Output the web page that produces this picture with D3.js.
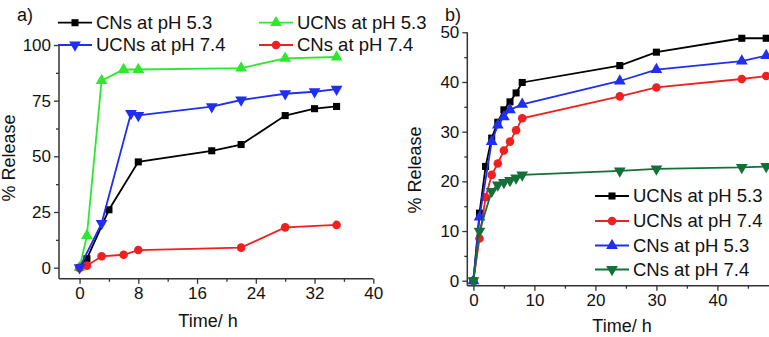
<!DOCTYPE html>
<html>
<head>
<meta charset="utf-8">
<script src="https://cdn.jsdelivr.net/npm/d3@7"></script>
<style>
  body { margin: 0; background: #fff; }
  svg text { font-family: "Liberation Sans", Arial, sans-serif; fill: #111; }
</style>
</head>
<body>
<svg id="chart" width="769" height="337"></svg>
<script>
// ---- panel a data (time in h, % release)
var timeA_cn53 = [0, 1, 4, 8, 18, 22, 28, 32, 35]
var relA_cn53 = [0, 4, 26, 47.5, 52.5, 55.3, 68.3, 71.4, 72.4]
var timeA_ucn53 = [0, 1, 3, 6, 8, 22, 28, 35]
var relA_ucn53 = [0, 14.4, 84, 89, 89, 89.6, 94, 94.6]
var timeA_ucn74 = [0, 3, 7, 8, 18, 22, 28, 32, 35]
var relA_ucn74 = [0, 19.9, 69.3, 68.4, 72.3, 75.3, 78.1, 79, 80.2]
var timeA_cn74 = [0, 1, 3, 6, 8, 22, 28, 35]
var relA_cn74 = [0, 0.9, 5.1, 5.8, 7.9, 9.0, 18.1, 19.2]
var ticksA_x = [0, 8, 16, 24, 32, 40]
var ticksA_y = [0, 25, 50, 75, 100]

// ---- panel b data
var timeB_ucn53 = [0, 1, 2, 3, 4, 5, 6, 7, 8, 24, 30, 44, 48]
var relB_ucn53 = [0, 13.6, 23, 28.7, 31.9, 34.4, 36, 37.8, 39.9, 43.3, 46, 48.8, 48.8]
var timeB_ucn74 = [0, 1, 2, 3, 4, 5, 6, 7, 8, 24, 30, 44, 48]
var relB_ucn74 = [0, 8.5, 16.8, 21.3, 23.6, 26.2, 28, 30.3, 32.7, 37.1, 38.9, 40.6, 41.2]
var timeB_cn53 = [0, 1, 3, 4, 5, 6, 8, 24, 30, 44, 48]
var relB_cn53 = [0, 12.8, 28, 31.3, 33, 34.4, 35.5, 40.2, 42.5, 44.2, 45.3]
var timeB_cn74 = [0, 1, 3, 4, 5, 6, 7, 8, 24, 30, 44, 48]
var relB_cn74 = [0, 10, 18, 19.3, 19.8, 20.2, 20.7, 21.3, 22.1, 22.5, 22.8, 23]
var ticksB_x = [0, 10, 20, 30, 40, 50]
var ticksB_y = [0, 10, 20, 30, 40, 50]

var svg = d3.select("#chart")
svg.append("rect").attr("width", 769).attr("height", 337).attr("fill", "#fff")

var axisColor = "#333"

function zip(xs, ys) {
  return xs.map(function(x, i) { return [x, ys[i]] })
}

// draws one Origin-style panel: left + bottom axis, outward ticks, minor ticks
function drawAxes(g, x, y, xt, yt, xMinor, yMinor) {
  var xr = x.range(), yr = y.range()

  var ax = d3.axisBottom(x).tickValues(xt).tickSize(5).tickPadding(3).tickFormat(d3.format("d"))
  var xg = g.append("g").attr("transform", "translate(0," + yr[0] + ")").call(ax)
  xg.selectAll(".tick line").filter(function(d) { return false })
  g.append("g").attr("transform", "translate(0," + yr[0] + ")")
    .call(d3.axisBottom(x).tickValues(xMinor).tickSize(3).tickFormat(""))
    .select(".domain").remove()

  var ay = d3.axisLeft(y).tickValues(yt).tickSize(5).tickPadding(3).tickFormat(d3.format("d"))
  var yg = g.append("g").attr("transform", "translate(" + xr[0] + ",0)").call(ay)
  g.append("g").attr("transform", "translate(" + xr[0] + ",0)")
    .call(d3.axisLeft(y).tickValues(yMinor).tickSize(3).tickFormat(""))
    .select(".domain").remove()

  g.selectAll(".domain").attr("stroke", axisColor).attr("stroke-width", 1.5)
    .attr("d", null)
  g.selectAll(".tick line").attr("stroke", axisColor).attr("stroke-width", 1.3)
  g.selectAll(".tick text").style("font-size", "17px").attr("fill", "#111")
  // replace domain paths with plain lines (no end caps)
  g.selectAll(".domain").remove()
  g.append("line").attr("x1", xr[0]).attr("x2", xr[1]).attr("y1", yr[0]).attr("y2", yr[0])
    .attr("stroke", axisColor).attr("stroke-width", 1.5)
  g.append("line").attr("x1", xr[0]).attr("x2", xr[0]).attr("y1", yr[0]).attr("y2", yr[1])
    .attr("stroke", axisColor).attr("stroke-width", 1.5)
}

var symbols = {
  square: d3.symbol().type(d3.symbolSquare).size(50),
  circle: d3.symbol().type(d3.symbolCircle).size(58),
  up: d3.symbol().type(d3.symbolTriangle).size(60),
  down: d3.symbol().type(d3.symbolTriangle).size(60)
}

function marker(g, shape, color, px, py) {
  var rot = shape == "down" ? 180 : 0
  g.append("path")
    .attr("d", symbols[shape]())
    .attr("transform", "translate(" + px + "," + py + ") rotate(" + rot + ")")
    .attr("fill", color)
}

function drawSeries(g, x, y, pts, color, shape) {
  var line = d3.line().x(function(d) { return x(d[0]) }).y(function(d) { return y(d[1]) })
  g.append("path").datum(pts).attr("d", line)
    .attr("fill", "none").attr("stroke", color).attr("stroke-width", 1.8)
  pts.forEach(function(d) { marker(g, shape, color, x(d[0]), y(d[1])) })
}

function legendItem(g, x0, yc, color, shape, label) {
  g.append("line").attr("x1", x0).attr("x2", x0 + 34).attr("y1", yc).attr("y2", yc)
    .attr("stroke", color).attr("stroke-width", 1.8)
  marker(g, shape, color, x0 + 17, yc)
  g.append("text").attr("x", x0 + 38).attr("y", yc).attr("dy", "0.35em")
    .style("font-size", "18.5px").text(label)
}

// ================= panel a
var xA = d3.scaleLinear().domain([-2.8, 40]).range([59, 373.3])
var yA = d3.scaleLinear().domain([-5, 100]).range([278.8, 45])
var gA = svg.append("g")
drawAxes(gA, xA, yA, ticksA_x, ticksA_y, [4, 12, 20, 28, 36], [12.5, 37.5, 62.5, 87.5])

drawSeries(gA, xA, yA, zip(timeA_cn53, relA_cn53), "#000", "square")
drawSeries(gA, xA, yA, zip(timeA_ucn53, relA_ucn53), "#2ee82e", "up")
drawSeries(gA, xA, yA, zip(timeA_cn74, relA_cn74), "#f02020", "circle")
drawSeries(gA, xA, yA, zip(timeA_ucn74, relA_ucn74), "#1f2ef0", "down")

legendItem(gA, 58, 22.7, "#000", "square", "CNs at pH 5.3")
legendItem(gA, 259, 22.7, "#2ee82e", "up", "UCNs at pH 5.3")
legendItem(gA, 58, 45, "#1f2ef0", "down", "UCNs at pH 7.4")
legendItem(gA, 259, 45, "#f02020", "circle", "CNs at pH 7.4")

gA.append("text").attr("x", 17).attr("y", 21).style("font-size", "18px").text("a)")
gA.append("text").attr("x", 208).attr("y", 326.5).attr("text-anchor", "middle")
  .style("font-size", "18px").text("Time/ h")
gA.append("text").attr("transform", "translate(9,158) rotate(-90)")
  .attr("text-anchor", "middle").attr("dy", "0.35em")
  .style("font-size", "18px").text("% Release")

// ================= panel b
var xB = d3.scaleLinear().domain([-1, 50]).range([467.3, 778.4])
var yB = d3.scaleLinear().domain([-1, 50]).range([285.7, 32.3])
var gB = svg.append("g")
drawAxes(gB, xB, yB, ticksB_x, ticksB_y, [5, 15, 25, 35, 45], [5, 15, 25, 35, 45])

drawSeries(gB, xB, yB, zip(timeB_ucn53, relB_ucn53), "#000", "square")
drawSeries(gB, xB, yB, zip(timeB_ucn74, relB_ucn74), "#f02020", "circle")
drawSeries(gB, xB, yB, zip(timeB_cn53, relB_cn53), "#1f2ef0", "up")
drawSeries(gB, xB, yB, zip(timeB_cn74, relB_cn74), "#127038", "down")

legendItem(gB, 595, 196, "#000", "square", "UCNs at pH 5.3")
legendItem(gB, 595, 221, "#f02020", "circle", "UCNs at pH 7.4")
legendItem(gB, 595, 245.5, "#1f2ef0", "up", "CNs at pH 5.3")
legendItem(gB, 595, 269.5, "#127038", "down", "CNs at pH 7.4")

gB.append("text").attr("x", 445).attr("y", 21).style("font-size", "18px").text("b)")
gB.append("text").attr("x", 622).attr("y", 332).attr("text-anchor", "middle")
  .style("font-size", "18px").text("Time/ h")
gB.append("text").attr("transform", "translate(415,170) rotate(-90)")
  .attr("text-anchor", "middle").attr("dy", "0.35em")
  .style("font-size", "18px").text("% Release")
</script>
</body>
</html>
